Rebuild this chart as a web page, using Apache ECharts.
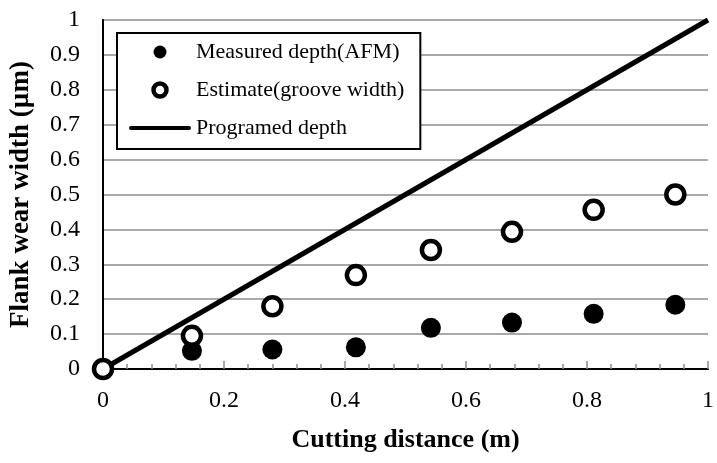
<!DOCTYPE html>
<html>
<head>
<meta charset="utf-8">
<script src="https://cdn.jsdelivr.net/npm/echarts@6/dist/echarts.min.js"></script>
<style>
html, body { margin: 0; padding: 0; background: #fff; }
#container { width: 717px; height: 463px; }
</style>
</head>
<body>
<div id="container"></div>
<script>
// cutting distance (m) of each measurement
var distance = [0, 0.147, 0.28, 0.418, 0.542, 0.676, 0.811, 0.946];
// flank wear width (um)
var measured = [0, 0.052, 0.056, 0.062, 0.118, 0.133, 0.158, 0.184];
var estimate = [0, 0.095, 0.18, 0.269, 0.341, 0.393, 0.456, 0.50];
// programed depth line
var programedX = [0, 1];
var programedY = [0, 1];

var names = ['Measured depth(AFM)', 'Estimate(groove width)', 'Programed depth'];

function pairs(xs, ys) {
    var out = [];
    for (var i = 0; i < xs.length; i++) {
        out.push([xs[i], ys[i]]);
    }
    return out;
}

var font = 'Liberation Serif, Times New Roman, serif';
var gray = '#8c8c8c';

var myChart = echarts.init(document.getElementById('container'));

option = {
    animation: false,
    backgroundColor: '#fff',
    grid: {
        left: 103,
        right: 7,
        top: 20,
        bottom: 94
    },
    legend: {
        orient: 'vertical',
        left: 117,
        top: 33,
        data: [
            { name: names[0] },
            { name: names[1], itemStyle: { borderWidth: 4.5 } },
            { name: names[2], icon: 'path://M2,0H60A2,2 0 0 1 60,4H2A2,2 0 0 1 2,0Z' }
        ],
        itemWidth: 62,
        itemHeight: 13,
        itemGap: 14,
        padding: [7, 16, 9, 12],
        borderColor: '#000',
        borderWidth: 2,
        borderRadius: 0,
        backgroundColor: '#fff',
        textStyle: {
            fontFamily: font,
            fontSize: 22,
            lineHeight: 24,
            color: '#000'
        }
    },
    xAxis: [
        {
            type: 'value',
            min: 0,
            max: 1,
            interval: 0.2,
            name: 'Cutting distance (m)',
            nameLocation: 'middle',
            nameGap: 58,
            nameTextStyle: {
                fontFamily: font,
                fontSize: 26,
                fontWeight: 'bold',
                color: '#000'
            },
            axisLine: { lineStyle: { color: gray, width: 2 } },
            axisTick: { show: true, inside: true, length: 8, lineStyle: { color: gray, width: 1.5 } },
            minorTick: { show: true, splitNumber: 5, length: 5, lineStyle: { color: gray, width: 1.5 } },
            axisLabel: {
                margin: 20,
                fontFamily: font,
                fontSize: 24,
                color: '#000'
            },
            splitLine: { show: false }
        },
        {
            type: 'value',
            position: 'top',
            min: 0,
            max: 1,
            axisLine: { show: true, lineStyle: { color: '#000', width: 2 } },
            axisTick: { show: false },
            axisLabel: { show: false },
            splitLine: { show: false }
        }
    ],
    yAxis: [
        {
            type: 'value',
            min: 0,
            max: 1,
            interval: 0.1,
            name: 'Flank wear width (\u00b5m)',
            nameLocation: 'middle',
            nameGap: 68,
            nameTextStyle: {
                fontFamily: font,
                fontSize: 27,
                fontWeight: 'bold',
                color: '#000'
            },
            axisLine: { show: true, lineStyle: { color: gray, width: 2 } },
            axisTick: { show: false },
            axisLabel: {
                margin: 23,
                fontFamily: font,
                fontSize: 24,
                color: '#000'
            },
            splitLine: { show: true, lineStyle: { color: gray, width: 1.5 } }
        },
        {
            type: 'value',
            position: 'right',
            min: 0,
            max: 1,
            axisLine: { show: true, lineStyle: { color: '#000', width: 2 } },
            axisTick: { show: false },
            axisLabel: { show: false },
            splitLine: { show: false }
        }
    ],
    series: [
        {
            name: 'Programed depth',
            type: 'line',
            data: pairs(programedX, programedY),
            symbol: 'none',
            color: '#000',
            lineStyle: { color: '#000', width: 5 },
            z: 2
        },
        {
            name: 'Measured depth(AFM)',
            type: 'scatter',
            data: pairs(distance, measured),
            symbol: 'circle',
            symbolSize: 20,
            itemStyle: { color: '#000', opacity: 1 },
            z: 3
        },
        {
            name: 'Estimate(groove width)',
            type: 'scatter',
            data: pairs(distance, estimate),
            symbol: 'circle',
            symbolSize: 18,
            itemStyle: { color: '#fff', borderColor: '#000', borderWidth: 4.5, opacity: 1 },
            z: 4
        }
    ]
};
myChart.setOption(option);
</script>
</body>
</html>
